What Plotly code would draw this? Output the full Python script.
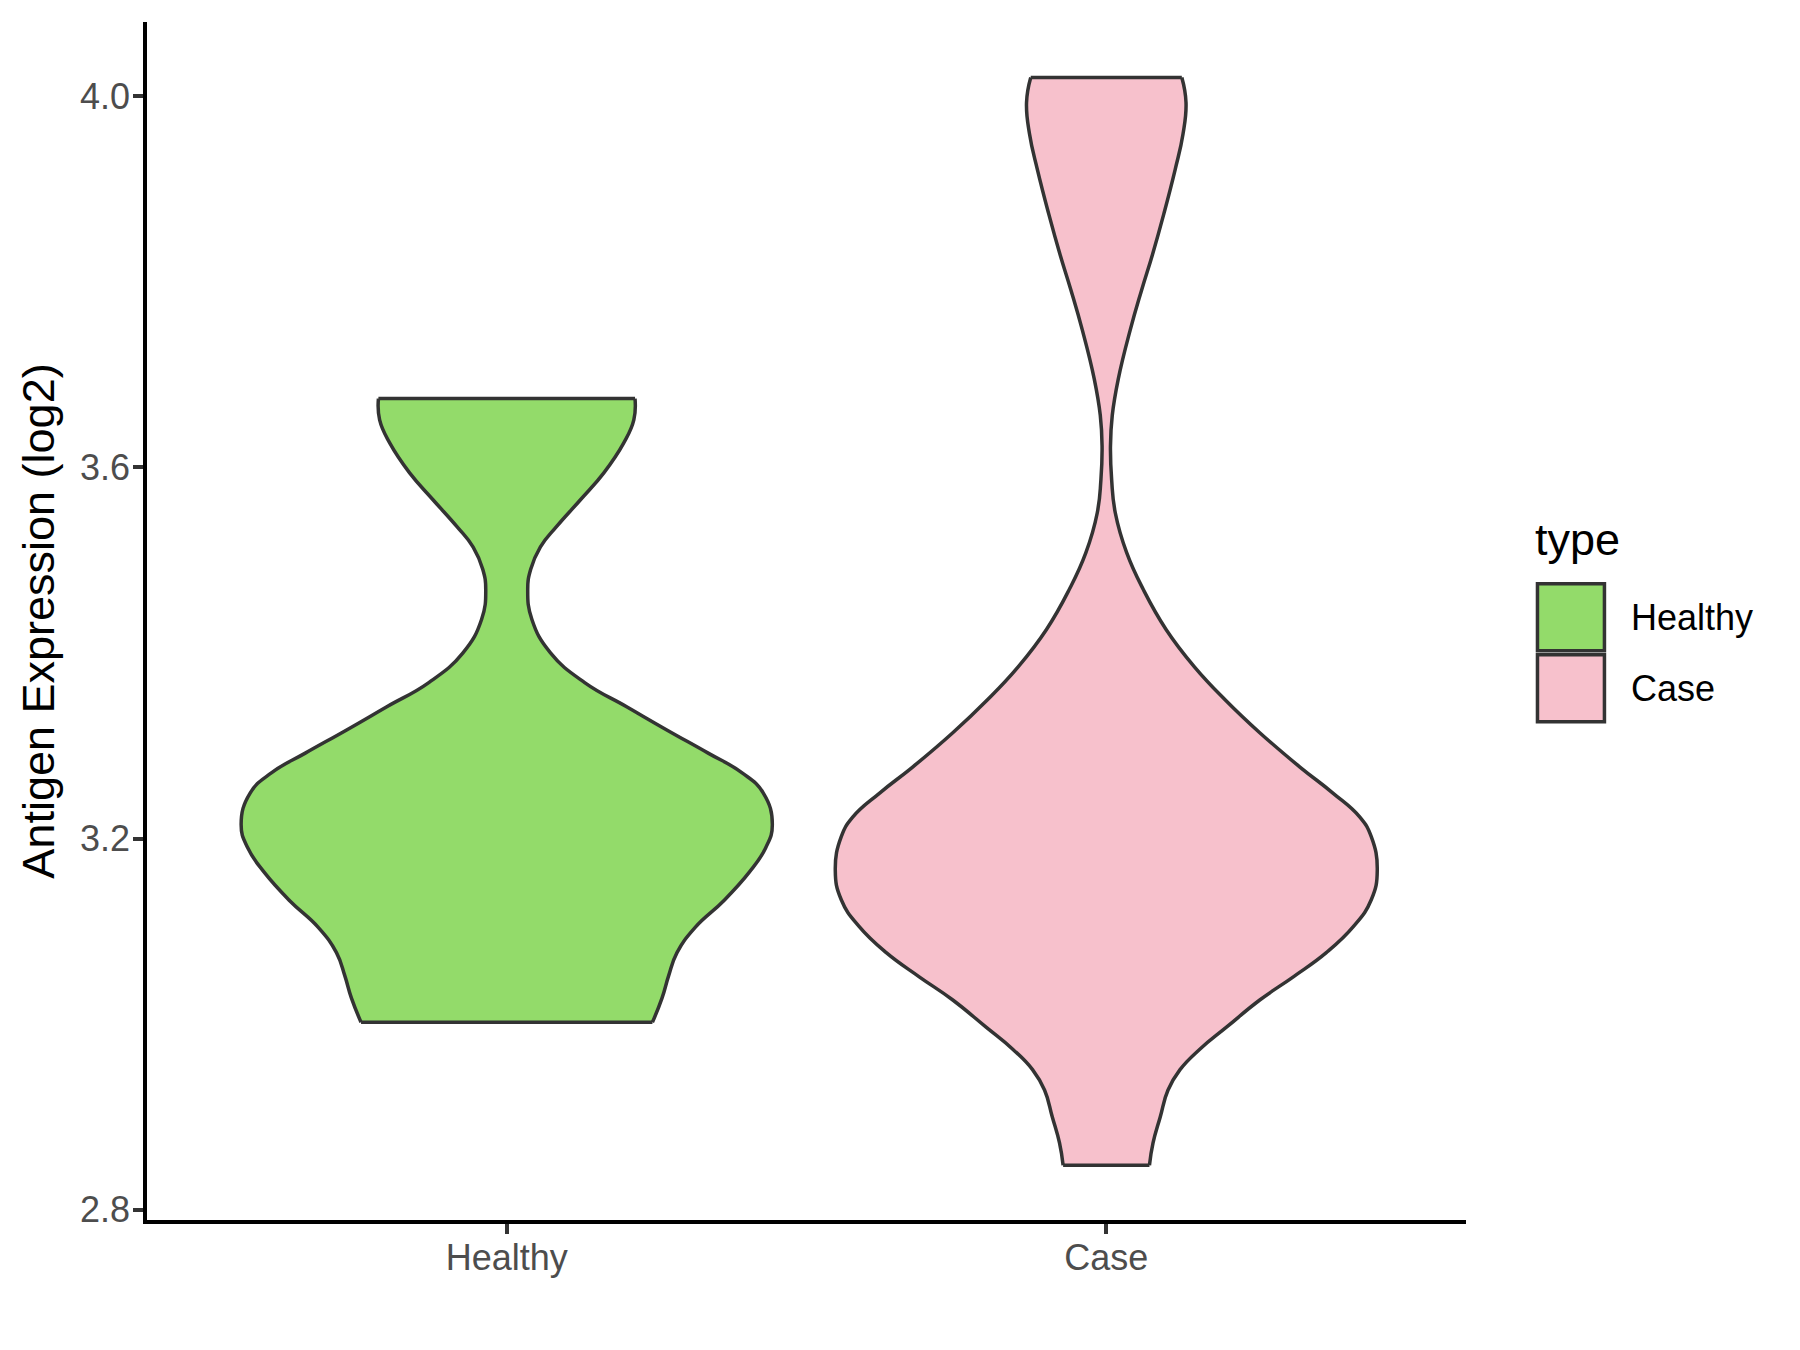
import plotly.graph_objects as go

# categories and fills
categories = ["Healthy", "Case"]
fill_colors = ["#93DB6A", "#F7C1CC"]

# violin outlines: expression level (log2) and half width
# of the violin at that level, in category-axis units (bottom to top)
healthy_level = [3.002, 3.028, 3.052, 3.077, 3.104, 3.133, 3.164, 3.190, 3.215, 3.249,
                 3.271, 3.292, 3.317, 3.342, 3.368, 3.400, 3.436, 3.468, 3.490, 3.514,
                 3.536, 3.565, 3.594, 3.626, 3.651, 3.674]
healthy_halfwidth = [0.243, 0.259, 0.270, 0.284, 0.314, 0.362, 0.405, 0.432, 0.443, 0.428,
                     0.392, 0.336, 0.267, 0.200, 0.130, 0.073, 0.042, 0.035, 0.040, 0.056,
                     0.083, 0.123, 0.162, 0.195, 0.212, 0.214]

case_level = [2.848, 2.872, 2.900, 2.929, 2.951, 2.973, 2.997, 3.026, 3.051, 3.077,
              3.105, 3.134, 3.166, 3.202, 3.223, 3.249, 3.277, 3.314, 3.349, 3.385,
              3.425, 3.468, 3.508, 3.551, 3.586, 3.623, 3.656, 3.695, 3.748, 3.791,
              3.829, 3.873, 3.921, 3.959, 3.993, 4.020]
case_halfwidth = [0.072, 0.078, 0.090, 0.103, 0.123, 0.156, 0.201, 0.256, 0.312, 0.367,
                  0.412, 0.442, 0.452, 0.442, 0.423, 0.378, 0.323, 0.256, 0.199, 0.147,
                  0.100, 0.062, 0.034, 0.015, 0.009, 0.007, 0.010, 0.020, 0.040, 0.059,
                  0.077, 0.096, 0.115, 0.128, 0.133, 0.126]

y_ticks = [2.8, 3.2, 3.6, 4.0]

# page body has an 8px margin, so the figure is a bit smaller than the window
BODY = 8
W, H = 1792, 1342
ML, MT = 139, 14
MR = W - ML - 1319.5
MB = H - MT - 1198.5
outline = "#333333"
font = "Liberation Sans, Arial"


def to_paper(px, py):
    # pixel position on page -> paper coords of the plot area
    return (px - BODY - ML) / (W - ML - MR), (H - MB - (py - BODY)) / (H - MT - MB)


fig = go.Figure()

profiles = [(healthy_level, healthy_halfwidth), (case_level, case_halfwidth)]
for i, (lev, hw) in enumerate(profiles):
    center = i + 1
    left = [center - w for w in hw]
    right = [center + w for w in hw]
    side = dict(color=outline, width=3.5, shape="spline", smoothing=1.3)
    fig.add_trace(go.Scatter(x=left, y=lev, mode="lines", line=side,
                             showlegend=False, hoverinfo="skip"))
    fig.add_trace(go.Scatter(x=right, y=lev, mode="lines", line=side, fill="tonextx",
                             fillcolor=fill_colors[i], showlegend=False, hoverinfo="skip"))
    # flat ends where the density is trimmed
    for k in (0, -1):
        fig.add_trace(go.Scatter(x=[left[k], right[k]], y=[lev[k], lev[k]], mode="lines",
                                 line=dict(color=outline, width=3.5),
                                 showlegend=False, hoverinfo="skip"))

fig.update_xaxes(range=[0.4, 2.6], tickvals=[1, 2], ticktext=categories, automargin=False,
                 showline=True, linecolor="black", linewidth=3.5, showgrid=False, zeroline=False,
                 ticks="outside", ticklen=10, tickwidth=3.5, tickcolor=outline, ticklabelstandoff=-7,
                 tickfont=dict(family=font, size=36, color="#4D4D4D"))
fig.update_yaxes(range=[2.789, 4.0797], tickvals=y_ticks, ticktext=["%.1f" % v for v in y_ticks],
                 automargin=False,
                 showline=True, linecolor="black", linewidth=3.5, showgrid=False, zeroline=False,
                 ticks="outside", ticklen=10, tickwidth=3.5, tickcolor=outline, ticklabelstandoff=-4,
                 tickfont=dict(family=font, size=36, color="#4D4D4D"),
                 title=dict(text="Antigen Expression (log2)", standoff=12,
                            font=dict(family=font, size=45, color="black")))

# legend drawn by hand to get ggplot-style square keys
shapes = []
annotations = []
tx, ty = to_paper(1534, 540)
annotations.append(dict(x=tx, y=ty, xref="paper", yref="paper", text="type", showarrow=False,
                        xanchor="left", yanchor="middle",
                        font=dict(family=font, size=45, color="black")))
for i, cat in enumerate(categories):
    top = 584 + i * 71
    x0, y0 = to_paper(1538, top + 67)
    x1, y1 = to_paper(1605, top)
    shapes.append(dict(type="rect", xref="paper", yref="paper", x0=x0, y0=y0, x1=x1, y1=y1,
                       fillcolor=fill_colors[i], line=dict(color=outline, width=3.5)))
    lx, ly = to_paper(1630, top + 34)
    annotations.append(dict(x=lx, y=ly, xref="paper", yref="paper", text=cat, showarrow=False,
                            xanchor="left", yanchor="middle",
                            font=dict(family=font, size=36, color="black")))

fig.update_layout(width=W, height=H, margin=dict(l=ML, r=MR, t=MT, b=MB),
                  plot_bgcolor="white", paper_bgcolor="white",
                  shapes=shapes, annotations=annotations, showlegend=False)

fig.write_html("out.html")
